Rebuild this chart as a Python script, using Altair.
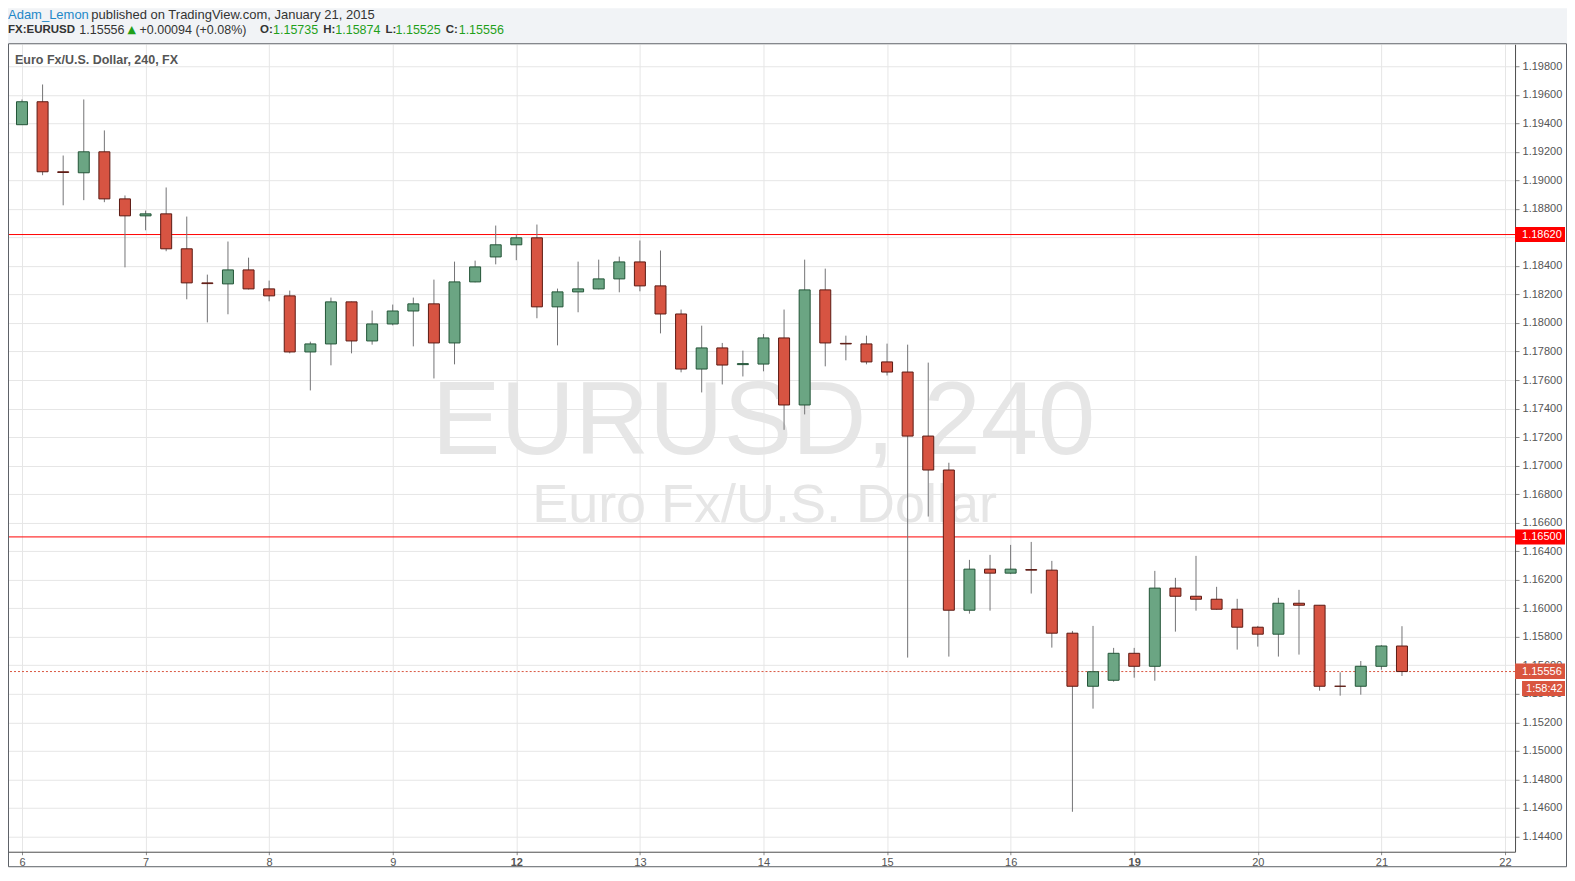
import altair as alt
import pandas as pd

# ---------------- data ----------------
opens = [1.19390, 1.19551, 1.19060, 1.19053, 1.19200, 1.18870, 1.18751, 1.18765, 1.18520, 1.18281,
         1.18274, 1.18372, 1.18239, 1.18190, 1.17797, 1.17853, 1.18148, 1.17874, 1.17993, 1.18084,
         1.18134, 1.17860, 1.18288, 1.18463, 1.18548, 1.18597, 1.18113, 1.18218, 1.18239, 1.18309,
         1.18428, 1.18260, 1.18063, 1.17677, 1.17825, 1.17708, 1.17712, 1.17895, 1.17425, 1.18232,
         1.17857, 1.17853, 1.17727, 1.17656, 1.17207, 1.16969, 1.15986, 1.16274, 1.16246, 1.16271,
         1.16267, 1.15825, 1.15453, 1.15495, 1.15684, 1.15593, 1.16141, 1.16084, 1.16063, 1.15993,
         1.15867, 1.15818, 1.16035, 1.16021, 1.15453, 1.15453, 1.15593, 1.15735]
highs = [1.19567, 1.19672, 1.19174, 1.19567, 1.19350, 1.18894, 1.18788, 1.18950, 1.18746, 1.18339,
         1.18571, 1.18458, 1.18297, 1.18227, 1.17869, 1.18178, 1.18150, 1.18087, 1.18129, 1.18178,
         1.18304, 1.18430, 1.18437, 1.18683, 1.18620, 1.18690, 1.18241, 1.18430, 1.18444, 1.18465,
         1.18578, 1.18508, 1.18094, 1.17981, 1.17860, 1.17806, 1.17923, 1.18094, 1.18444, 1.18381,
         1.17911, 1.17911, 1.17855, 1.17848, 1.17722, 1.17020, 1.16339, 1.16374, 1.16444, 1.16465,
         1.16332, 1.15841, 1.15876, 1.15722, 1.15722, 1.16262, 1.16213, 1.16367, 1.16150, 1.16066,
         1.15876, 1.16073, 1.16129, 1.16021, 1.15551, 1.15630, 1.15742, 1.15874]
lows = [1.19390, 1.19036, 1.18825, 1.18861, 1.18847, 1.18390, 1.18650, 1.18503, 1.18166, 1.18004,
        1.18061, 1.18235, 1.18152, 1.17787, 1.17527, 1.17703, 1.17787, 1.17848, 1.17983, 1.17836,
        1.17611, 1.17710, 1.18285, 1.18411, 1.18440, 1.18033, 1.17843, 1.18075, 1.18236, 1.18215,
        1.18222, 1.17927, 1.17654, 1.17513, 1.17569, 1.17625, 1.17661, 1.17251, 1.17359, 1.17696,
        1.17738, 1.17710, 1.17632, 1.15654, 1.16643, 1.15661, 1.15962, 1.15983, 1.16239, 1.16103,
        1.15724, 1.14573, 1.15296, 1.15485, 1.15513, 1.15492, 1.15836, 1.15983, 1.15990, 1.15710,
        1.15731, 1.15661, 1.15675, 1.15422, 1.15387, 1.15394, 1.15569, 1.15525]
closes = [1.19551, 1.19060, 1.19055, 1.19200, 1.18870, 1.18751, 1.18765, 1.18520, 1.18281, 1.18276,
          1.18372, 1.18239, 1.18190, 1.17797, 1.17853, 1.18148, 1.17874, 1.17993, 1.18084, 1.18134,
          1.17860, 1.18288, 1.18393, 1.18548, 1.18597, 1.18113, 1.18218, 1.18239, 1.18309, 1.18428,
          1.18260, 1.18063, 1.17677, 1.17825, 1.17705, 1.17715, 1.17895, 1.17425, 1.18232, 1.17860,
          1.17853, 1.17727, 1.17656, 1.17207, 1.16969, 1.15986, 1.16274, 1.16246, 1.16274, 1.16267,
          1.15825, 1.15453, 1.15555, 1.15684, 1.15593, 1.16141, 1.16084, 1.16063, 1.15993, 1.15867,
          1.15818, 1.16035, 1.16021, 1.15453, 1.15453, 1.15593, 1.15735, 1.15556]

day_labels = ["6", "7", "8", "9", "12", "13", "14", "15", "16", "19", "20", "21", "22"]
week_start_days = ["12", "19"]
level_prices = [1.18620, 1.16500]
price_ticks = [1.144, 1.146, 1.148, 1.150, 1.152, 1.154, 1.156, 1.158, 1.160, 1.162,
               1.164, 1.166, 1.168, 1.170, 1.172, 1.174, 1.176, 1.178, 1.180, 1.182,
               1.184, 1.186, 1.188, 1.190, 1.192, 1.194, 1.196, 1.198]
countdown = "1:58:42"
symbol_title = "Euro Fx/U.S. Dollar, 240, FX"
watermark_1 = "EURUSD, 240"
watermark_2 = "Euro Fx/U.S. Dollar"
header_author = "Adam_Lemon"
header_rest = "published on TradingView.com, January 21, 2015"
header_parts = ["FX:EURUSD", "1.15556", "\u25b2", "+0.00094 (+0.08%)", "O:", "1.15735",
                "H:", "1.15874", "L:", "1.15525", "C:", "1.15556"]

# ---------------- styling / layout ----------------
PER_DAY = 6
W, H = 1508, 808
GREEN, GREEN_EDGE = "#6ba583", "#225437"
RED, RED_EDGE = "#d75442", "#5b1a13"
WICK = "#737375"
LEVEL = "#ff0000"
LAST = "#d9553f"
FONT = "Liberation Sans"
DARK = "#333333"
VGREEN = "#1fa01a"

candles = pd.DataFrame({"i": list(range(len(opens))), "open": opens, "high": highs,
                        "low": lows, "close": closes})
levels = pd.DataFrame({"p": level_prices, "label": [f"{p:.5f}" for p in level_prices]})
last = pd.DataFrame({"p": [closes[-1]], "label": [f"{closes[-1]:.5f}"], "cd": [countdown]})
one = pd.DataFrame({"z": [0]})

x_scale = alt.Scale(domain=[-0.679, 72.489], nice=False, zero=False, padding=0)
y_scale = alt.Scale(domain=[1.142928, 1.199541], nice=False, zero=False, padding=0)

tick_idx = [k * PER_DAY for k in range(len(day_labels))]
label_arr = "[" + ",".join(f"'{d}'" for d in day_labels) + "]"
bold_test = " || ".join(f"datum.value == {day_labels.index(d) * PER_DAY}" for d in week_start_days)

x_axis = alt.Axis(values=tick_idx, labelExpr=f"{label_arr}[round(datum.value/{PER_DAY})]",
                  title=None, grid=True, gridColor="#e6e6e6", gridWidth=1,
                  domainColor="#4d4d4d", tickColor="#8a8a8a", tickSize=3, labelPadding=2,
                  labelFont=FONT, labelFontSize=11, labelColor="#555555",
                  labelFontWeight=alt.condition(bold_test, alt.value("bold"), alt.value("normal")),
                  labelFlush=False, labelOverlap=False)
y_axis = alt.Axis(orient="right", values=price_ticks, format=".5f", title=None, grid=True,
                  gridColor="#e6e6e6", gridWidth=1, domainColor="#4d4d4d", tickColor="#8a8a8a",
                  tickSize=4, labelPadding=3, labelFont=FONT, labelFontSize=11,
                  labelColor="#555555", labelFlush=False, labelOverlap=False)

X = alt.X("i:Q", scale=x_scale, axis=x_axis)


def Y(f):
    return alt.Y(f"{f}:Q", scale=y_scale, axis=y_axis)


def txt(text, x, y, size=13, color=DARK, weight="normal", font=FONT, align="left",
        baseline="middle"):
    return alt.Chart(one).mark_text(align=align, baseline=baseline, fontSize=size, color=color,
                                    fontWeight=weight, font=font).encode(
        x=alt.value(x), y=alt.value(y), text=alt.value(text))


header_band = alt.Chart(one).mark_rect(fill="#f1f3f6").encode(
    x=alt.value(0), x2=alt.value(W + 52), y=alt.value(-36), y2=alt.value(-1))

wm1 = txt(watermark_1, 756, 410, size=103, color="#e6e6e6", align="center", baseline="alphabetic")
wm2 = txt(watermark_2, 757, 478, size=54, color="#e6e6e6", align="center", baseline="alphabetic")

level_rules = alt.Chart(levels).mark_rule(stroke=LEVEL, strokeWidth=1, opacity=1).encode(y=Y("p"))
last_rule = alt.Chart(last).mark_rule(stroke=LAST, strokeWidth=1, strokeDash=[2, 2]).encode(y=Y("p"))

is_up = "datum.close > datum.open"
wicks = alt.Chart(candles).mark_rule(color=WICK, strokeWidth=1).encode(
    x=X, y=Y("low"), y2="high")
bodies = alt.Chart(candles).mark_bar(size=11, strokeWidth=1).encode(
    x=X, y=Y("open"), y2="close",
    fill=alt.condition(is_up, alt.value(GREEN), alt.value(RED)),
    stroke=alt.condition(is_up, alt.value(GREEN_EDGE), alt.value(RED_EDGE)))

level_tags = alt.Chart(levels).mark_rect(fill=LEVEL, yOffset=-7.5, y2Offset=7.5).encode(
    x=alt.value(W), x2=alt.value(W + 50), y=Y("p"), y2="p")
level_text = alt.Chart(levels).mark_text(align="left", baseline="middle", fontSize=11,
                                         font=FONT, color="white").encode(
    x=alt.value(W + 7), y=Y("p"), text="label:N")
last_tag = alt.Chart(last).mark_rect(fill=LAST, yOffset=-8, y2Offset=7.5).encode(
    x=alt.value(W), x2=alt.value(W + 50), y=Y("p"), y2="p")
last_text = alt.Chart(last).mark_text(align="left", baseline="middle", fontSize=11,
                                      font=FONT, color="white").encode(
    x=alt.value(W + 7), y=Y("p"), text="label:N")
cd_tag = alt.Chart(last).mark_rect(fill=LAST, yOffset=9.5, y2Offset=24.5).encode(
    x=alt.value(W + 7), x2=alt.value(W + 50), y=Y("p"), y2="p")
cd_text = alt.Chart(last).mark_text(align="left", baseline="middle", fontSize=11, dy=17,
                                    font=FONT, color="white").encode(
    x=alt.value(W + 11), y=Y("p"), text="cd:N")

title_in = txt(symbol_title, 7, 16, size=12.5, color="#555555", weight="bold")

line1 = [txt(header_author, 0, -29, color="#1e88c8"),
         txt(header_rest, 83.4, -29)]
part_x = [0, 71.4, 119.6, 131.6, 252.2, 265.2, 315.4, 327.5, 377.7, 387.8, 438, 451]
part_style = [("bold", DARK), ("normal", DARK), ("normal", VGREEN), ("normal", DARK),
              ("bold", DARK), ("normal", VGREEN), ("bold", DARK), ("normal", VGREEN),
              ("bold", DARK), ("normal", VGREEN), ("bold", DARK), ("normal", VGREEN)]
line2 = []
for t, px, (wt, col) in zip(header_parts, part_x, part_style):
    fnt = "DejaVu Sans" if t == "\u25b2" else FONT
    sz = 11 if t == "\u25b2" else (11.5 if wt == "bold" else 12.5)
    line2.append(txt(t, px, -14.5, size=sz, color=col, weight=wt, font=fnt))

frame = alt.Chart(one).mark_rect(fillOpacity=0, stroke="#5c6066", strokeWidth=1).encode(
    x=alt.value(0.5), x2=alt.value(W + 51.5), y=alt.value(-0.5), y2=alt.value(H + 15))

chart = alt.layer(
    header_band, wm1, wm2, level_rules, last_rule, wicks, bodies,
    level_tags, level_text, last_tag, last_text, cd_tag, cd_text,
    title_in, *line1, *line2, frame
).properties(
    width=W, height=H,
    autosize=alt.AutoSizeParams(type="none"),
    padding={"left": 0, "top": 36, "right": 52, "bottom": 16},
    background="white",
).configure_view(strokeWidth=0)

chart.save("out.html", embed_options={"renderer": "svg", "actions": False})
